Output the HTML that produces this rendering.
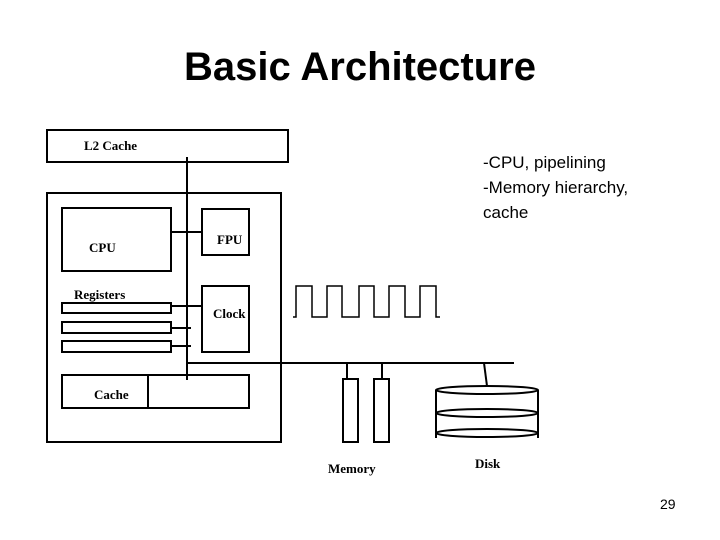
<!DOCTYPE html>
<html><head><style>
body{margin:0;width:720px;height:540px;background:#fff;position:relative;overflow:hidden}
.t{position:absolute;font-family:"Liberation Sans",sans-serif}
</style></head><body>
<div class="t" style="left:0;width:720px;top:45px;text-align:center;font-size:40px;font-weight:bold">Basic Architecture</div>
<div class="t" style="left:483px;top:150px;font-size:17px;line-height:25px">-CPU, pipelining<br>-Memory hierarchy,<br>cache</div>
<div class="t" style="left:660px;top:496px;font-size:14px">29</div>
<svg width="720" height="540" style="position:absolute;left:0;top:0" font-family="Liberation Serif" font-weight="bold" font-size="13">
<g fill="none" stroke="#000" stroke-width="2">
<rect x="47" y="130" width="241" height="32"/>
<rect x="47" y="193" width="234" height="249"/>
<rect x="62" y="208" width="109" height="63"/>
<rect x="202" y="209" width="47" height="46"/>
<rect x="202" y="286" width="47" height="66"/>
<rect x="62" y="303" width="109" height="10"/>
<rect x="62" y="322" width="109" height="11"/>
<rect x="62" y="341" width="109" height="11"/>
<rect x="62" y="375" width="187" height="33"/>
<line x1="148" y1="375" x2="148" y2="408"/>
<line x1="187" y1="157" x2="187" y2="380"/>
<line x1="171" y1="232" x2="202" y2="232"/>
<line x1="171" y1="306" x2="202" y2="306"/>
<line x1="171" y1="328" x2="191" y2="328"/>
<line x1="171" y1="346" x2="191" y2="346"/>
<line x1="187" y1="363" x2="514" y2="363"/>
<polyline points="293,317 296,317 296,286 312,286 312,317 327,317 327,286 342,286 342,317 359,317 359,286 374,286 374,317 389,317 389,286 405,286 405,317 420,317 420,286 436,286 436,317 440,317" stroke-width="1.5"/>
<line x1="347" y1="363" x2="347" y2="379"/>
<line x1="382" y1="363" x2="382" y2="379"/>
<rect x="343" y="379" width="15" height="63"/>
<rect x="374" y="379" width="15" height="63"/>
<line x1="484" y1="363" x2="487" y2="386"/>
<ellipse cx="487" cy="390" rx="51" ry="4"/>
<ellipse cx="487" cy="413" rx="51" ry="4"/>
<ellipse cx="487" cy="433" rx="51" ry="4"/>
<line x1="436" y1="390" x2="436" y2="438"/>
<line x1="538" y1="390" x2="538" y2="438"/>
</g>
<text x="84" y="150">L2 Cache</text>
<text x="89" y="252">CPU</text>
<text x="217" y="244">FPU</text>
<text x="74" y="299">Registers</text>
<text x="213" y="318">Clock</text>
<text x="94" y="399">Cache</text>
<text x="328" y="473">Memory</text>
<text x="475" y="468">Disk</text>
</svg>
</body></html>
